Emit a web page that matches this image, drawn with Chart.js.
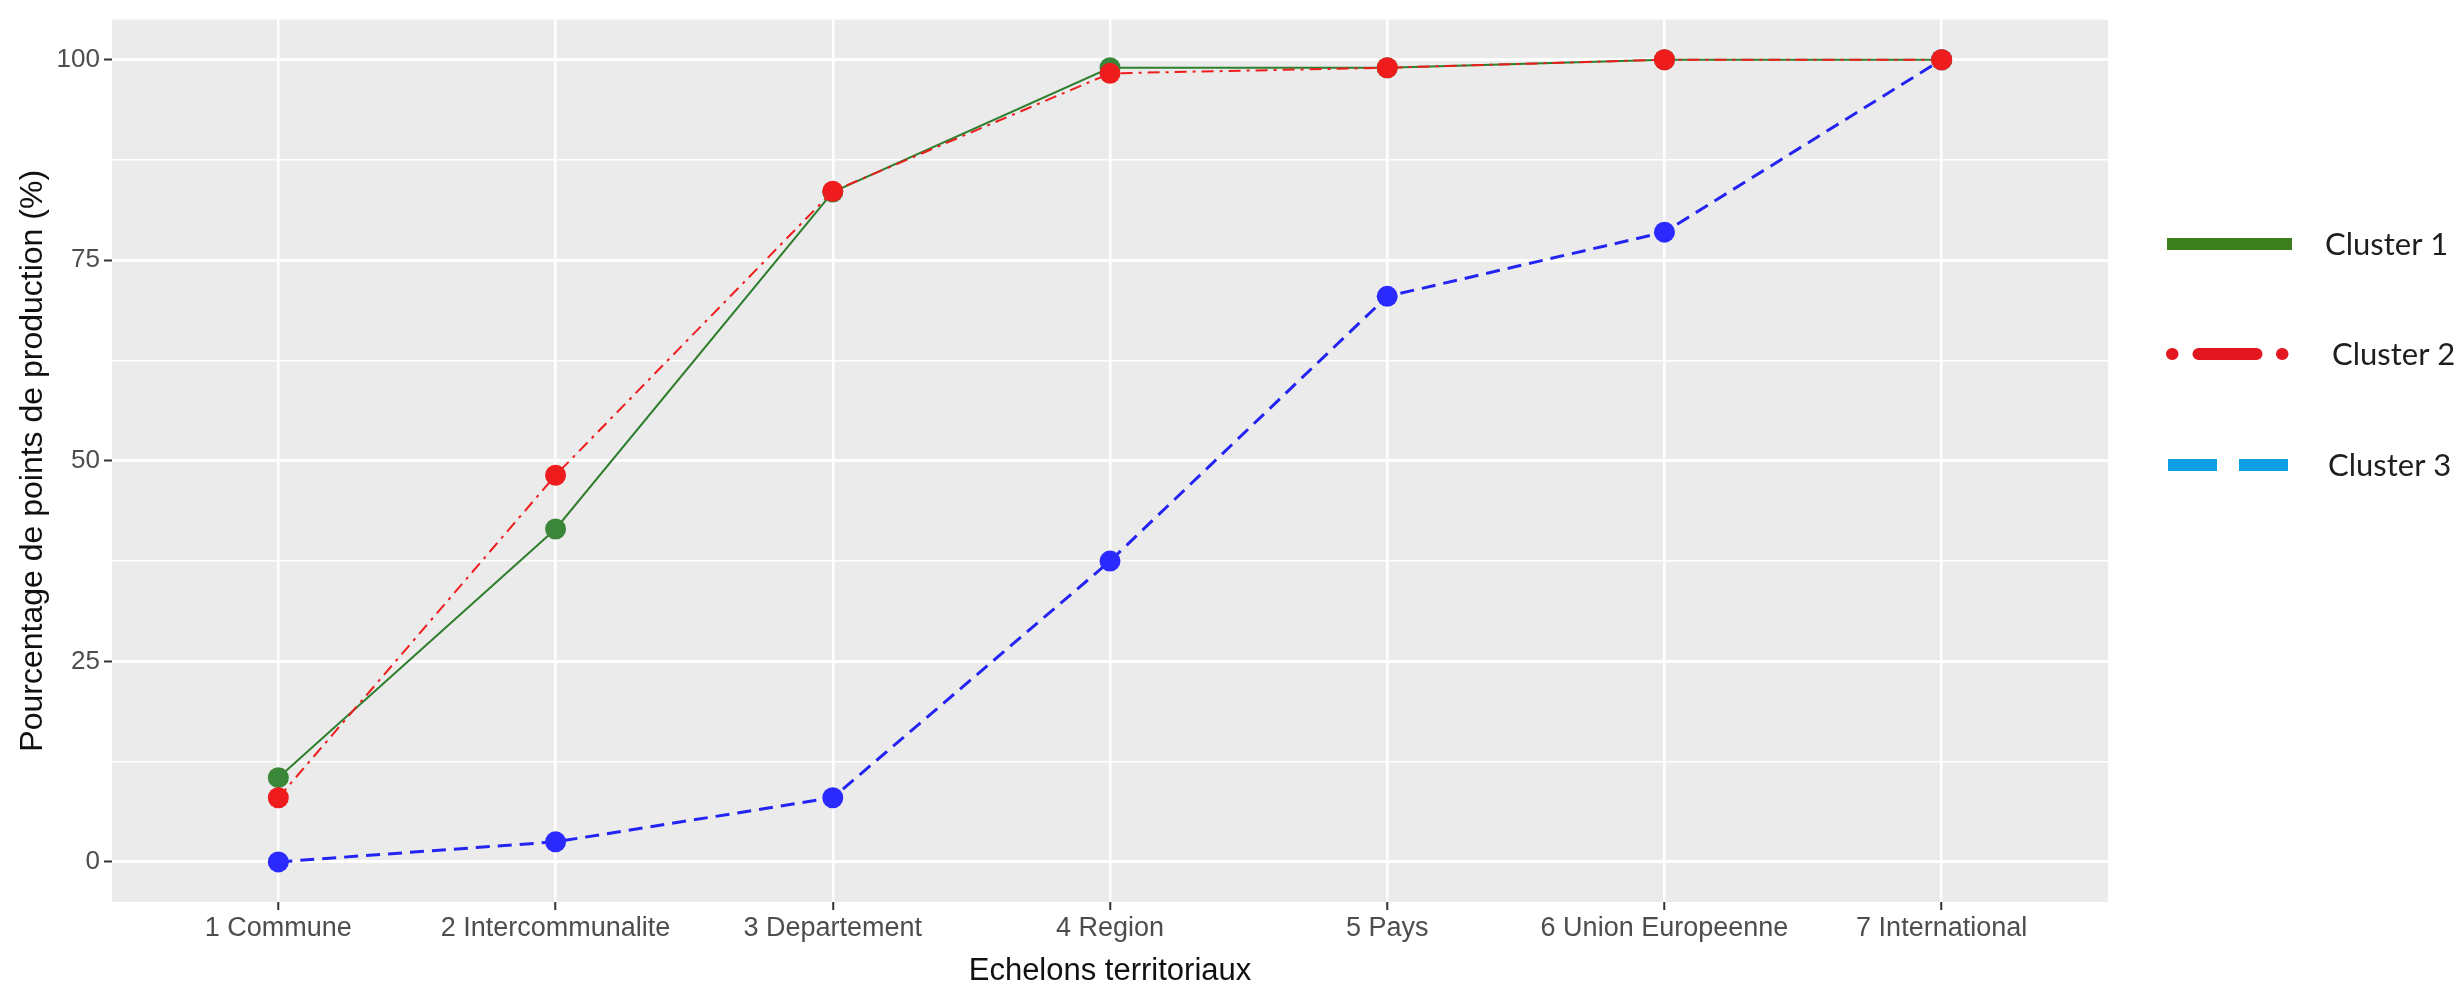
<!DOCTYPE html>
<html>
<head>
<meta charset="utf-8">
<script src="https://cdn.jsdelivr.net/npm/chart.js@4/dist/chart.umd.min.js"></script>
<style>
body { margin: 0; background: #fff; }
</style>
</head>
<body>
<canvas id="echelons" width="2463" height="987"></canvas>
<script>
// Echelons territoriaux - % cumule des points de production par cluster
var categories = ["1 Commune", "2 Intercommunalite", "3 Departement", "4 Region", "5 Pays", "6 Union Europeenne", "7 International"];
var cluster1 = [10.5, 41.5, 83.5, 99.0, 99.0, 100, 100];
var cluster2 = [8.0, 48.2, 83.6, 98.3, 99.0, 100, 100];
var cluster3 = [0, 2.5, 8.0, 37.5, 70.5, 78.5, 100];
var yTicks = [0, 25, 50, 75, 100];
var yMinor = [12.5, 37.5, 62.5, 87.5];
var legendLabels = ["Cluster 1", "Cluster 2", "Cluster 3"];

function toPoints(values) {
    return values.map(function (v, i) {
        return { x: i + 1, y: v };
    });
}

// fond gris du panneau (style ggplot)
var panelBg = {
    id: "panelBg",
    beforeDraw: function (chart) {
        var a = chart.chartArea;
        var ctx = chart.ctx;
        ctx.save();
        ctx.fillStyle = "#ebebeb";
        ctx.fillRect(a.left, a.top, a.right - a.left, a.bottom - a.top);
        ctx.restore();
    }
};

// legende collee a droite (image dans l'original)
var legendStyles = [
    { color: "#3d7e1e", dash: [], cap: "butt", x1: 2167, x2: 2292, y: 244, tx: 2325 },
    { color: "#e3171f", dash: [0.5, 26, 58, 25.5], cap: "round", x1: 2172, x2: 2283, y: 354, tx: 2332 },
    { color: "#0e9fe4", dash: [49, 22], cap: "butt", x1: 2168, x2: 2290, y: 465, tx: 2328 }
];
var sideLegend = {
    id: "sideLegend",
    afterDraw: function (chart) {
        var ctx = chart.ctx;
        ctx.save();
        legendLabels.forEach(function (label, i) {
            var s = legendStyles[i];
            ctx.beginPath();
            ctx.strokeStyle = s.color;
            ctx.lineWidth = 12;
            ctx.lineCap = s.cap;
            ctx.setLineDash(s.dash);
            ctx.moveTo(s.x1, s.y);
            ctx.lineTo(s.x2, s.y);
            ctx.stroke();
            ctx.setLineDash([]);
            ctx.fillStyle = "#1e1e1e";
            ctx.font = "31px Lato";
            ctx.textBaseline = "middle";
            ctx.textAlign = "left";
            ctx.fillText(label, s.tx, s.y + 1);
        });
        ctx.restore();
    }
};

var ctx = document.getElementById("echelons");
var lineChart = new Chart(ctx, {
    type: "line",
    data: {
        datasets: [
            {
                label: legendLabels[1],
                data: toPoints(cluster2),
                borderColor: "#ee1c1c",
                backgroundColor: "#ee1c1c",
                borderWidth: 2,
                borderDash: [12, 6, 3, 6],
                pointRadius: 10.5,
                pointBorderWidth: 0,
                order: 0
            },
            {
                label: legendLabels[0],
                data: toPoints(cluster1),
                borderColor: "#2f7f2f",
                backgroundColor: "#3a873a",
                borderWidth: 2,
                pointRadius: 10.5,
                pointBorderWidth: 0,
                order: 1
            },
            {
                label: legendLabels[2],
                data: toPoints(cluster3),
                borderColor: "#2424f2",
                backgroundColor: "#2a2aff",
                borderWidth: 3,
                borderDash: [14, 8],
                pointRadius: 10.5,
                pointBorderWidth: 0,
                order: 2
            }
        ]
    },
    options: {
        responsive: false,
        animation: false,
        layout: { padding: { top: 15, right: 355, left: 0, bottom: 0 } },
        plugins: {
            legend: { display: false },
            tooltip: { enabled: false }
        },
        scales: {
            x: {
                type: "linear",
                min: 0.4,
                max: 7.6,
                afterBuildTicks: function (scale) {
                    scale.ticks = categories.map(function (c, i) {
                        return { value: i + 1 };
                    });
                },
                afterFit: function (scale) {
                    scale.height = 85;
                },
                border: { display: false },
                grid: {
                    color: "#ffffff",
                    lineWidth: 2.5,
                    tickColor: "#333333",
                    tickWidth: 2,
                    tickLength: 8
                },
                ticks: {
                    autoSkip: false,
                    maxRotation: 0,
                    padding: 2,
                    color: "#4d4d4d",
                    font: { family: "Liberation Sans", size: 27 },
                    callback: function (v) {
                        return categories[v - 1];
                    }
                },
                title: {
                    display: true,
                    text: "Echelons territoriaux",
                    color: "#111111",
                    font: { family: "Liberation Sans", size: 31, lineHeight: 1 },
                    padding: 0
                }
            },
            y: {
                type: "linear",
                min: -5,
                max: 105,
                afterBuildTicks: function (scale) {
                    scale.ticks = yTicks.concat(yMinor).sort(function (a, b) {
                        return a - b;
                    }).map(function (v) {
                        return { value: v };
                    });
                },
                afterFit: function (scale) {
                    scale.width = 112;
                },
                border: { display: false },
                grid: {
                    color: "#ffffff",
                    lineWidth: function (c) {
                        return yTicks.indexOf(c.tick.value) >= 0 ? 3 : 1.5;
                    },
                    tickColor: function (c) {
                        return yTicks.indexOf(c.tick.value) >= 0 ? "#333333" : "rgba(0,0,0,0)";
                    },
                    tickWidth: 2,
                    tickLength: 8
                },
                ticks: {
                    autoSkip: false,
                    padding: 4,
                    color: "#4d4d4d",
                    font: { family: "Liberation Sans", size: 26 },
                    callback: function (v) {
                        return yTicks.indexOf(v) >= 0 ? String(v) : "";
                    }
                },
                title: {
                    display: true,
                    text: "Pourcentage de points de production (%)",
                    color: "#111111",
                    font: { family: "Liberation Sans", size: 32, lineHeight: 1 },
                    padding: { top: 17, bottom: 0 }
                }
            }
        }
    },
    plugins: [panelBg, sideLegend]
});
</script>
</body>
</html>
